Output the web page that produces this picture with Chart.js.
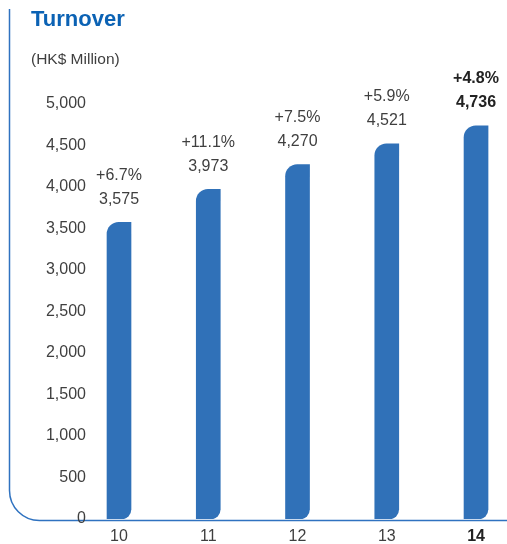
<!DOCTYPE html>
<html>
<head>
<meta charset="utf-8">
<title>Turnover</title>
<script src="https://cdn.jsdelivr.net/npm/chart.js@4.4.1/dist/chart.umd.min.js"></script>
<style>
	html, body { margin: 0; padding: 0; background: #fff; }
	#wrap { position: relative; width: 507px; height: 544px; }
	#turnoverChart { position: absolute; left: 0; top: 0; }
	.title { position: absolute; left: 31px; top: 6px; font: bold 22px "Liberation Sans", Arial, sans-serif; color: #0b62b4; }
	.unit { position: absolute; left: 31px; top: 50px; font: 15.5px "Liberation Sans", Arial, sans-serif; color: #3f3f3f; }
</style>
</head>
<body>
<div id="wrap">
	<canvas id="turnoverChart" width="507" height="544"></canvas>
	<div class="title">Turnover</div>
	<div class="unit">(HK$ Million)</div>
</div>
<script>
// financial years and turnover (HK$ million)
var years = [10, 11, 12, 13, 14];
var turnover = [3575, 3973, 4270, 4521, 4736];
var growth = ['+6.7%', '+11.1%', '+7.5%', '+5.9%', '+4.8%'];
var yTicks = [0, 500, 1000, 1500, 2000, 2500, 3000, 3500, 4000, 4500, 5000];

var BLUE = '#3071b8';
var LINE = '#2f72c0';
var TEXT = '#3f3f3f';
var FONT = '"Liberation Sans", Arial, sans-serif';

function fmt(v) {
	return v.toLocaleString('en-US');
}

// rounded frame: left rule curving into the baseline
var framePlugin = {
	id: 'frame',
	beforeDraw: function(chart) {
		var ctx = chart.ctx;
		var y0 = Math.round(chart.scales.y.getPixelForValue(0)) + 1.5;
		var x0 = 9.5, r = 30;
		ctx.save();
		ctx.strokeStyle = LINE;
		ctx.lineWidth = 1.5;
		ctx.beginPath();
		ctx.moveTo(x0, 9);
		ctx.lineTo(x0, y0 - r);
		ctx.arcTo(x0, y0, x0 + r, y0, r);
		ctx.lineTo(chart.width, y0);
		ctx.stroke();
		ctx.restore();
	}
};

// growth and value labels over each bar
var labelPlugin = {
	id: 'barLabels',
	afterDatasetsDraw: function(chart) {
		var ctx = chart.ctx;
		var meta = chart.getDatasetMeta(0);
		ctx.save();
		ctx.textAlign = 'center';
		ctx.textBaseline = 'middle';
		meta.data.forEach(function(bar, i) {
			var last = i === years.length - 1;
			ctx.font = (last ? 'bold ' : '') + '16px ' + FONT;
			ctx.fillStyle = last ? '#222' : TEXT;
			ctx.fillText(fmt(turnover[i]), bar.x, bar.y - 23);
			ctx.fillText(growth[i], bar.x, bar.y - 47);
		});
		ctx.restore();
	}
};

new Chart(document.getElementById('turnoverChart').getContext('2d'), {
	type: 'bar',
	data: {
		datasets: [{
			label: 'Turnover',
			data: years.map(function(y, i) { return { x: y, y: turnover[i] }; }),
			backgroundColor: BLUE,
			borderWidth: 0,
			borderSkipped: false,
			borderRadius: { topLeft: 13, topRight: 0, bottomLeft: 0, bottomRight: 10 },
			barThickness: 24
		}]
	},
	options: {
		responsive: false,
		animation: false,
		layout: { padding: { top: 104, right: 0, bottom: 0, left: 0 } },
		plugins: {
			legend: { display: false },
			tooltip: { enabled: false }
		},
		scales: {
			x: {
				type: 'linear',
				offset: false,
				min: 9.731,
				max: 14.347,
				grid: { display: false, drawTicks: false },
				border: { display: false },
				afterFit: function(axis) { axis.height = 25; },
				afterBuildTicks: function(axis) {
					axis.ticks = years.map(function(v) { return { value: v }; });
				},
				ticks: {
					padding: 8,
					maxRotation: 0,
					color: function(c) { return c.tick && c.tick.value === 14 ? '#222' : TEXT; },
					font: function(c) {
						return { family: FONT, size: 16, weight: c.tick && c.tick.value === 14 ? 'bold' : 'normal' };
					},
					callback: function(v) { return String(v); }
				}
			},
			y: {
				min: 0,
				max: 5000,
				grid: { display: false, drawTicks: false },
				border: { display: false },
				afterFit: function(axis) { axis.width = 95; },
				afterBuildTicks: function(axis) {
					axis.ticks = yTicks.map(function(v) { return { value: v }; });
				},
				ticks: {
					padding: 9,
					color: TEXT,
					font: { family: FONT, size: 16 },
					callback: function(v) { return fmt(v); }
				}
			}
		}
	},
	plugins: [framePlugin, labelPlugin]
});
</script>
</body>
</html>
